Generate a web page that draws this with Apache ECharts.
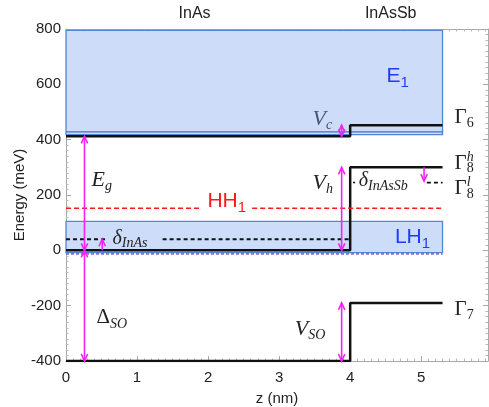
<!DOCTYPE html>
<html><head><meta charset="utf-8">
<script src="https://cdn.jsdelivr.net/npm/echarts@6/dist/echarts.min.js"></script>
<style>html,body{margin:0;padding:0;background:#fff}#c{width:489px;height:407px}</style>
</head><body><div id="c"></div>
<script>
// ---------------- data (z in nm, energy in meV) ----------------
const xTicks = [0, 1, 2, 3, 4, 5];
const yTicks = [-400, -200, 0, 200, 400, 600, 800];
const conductionBand = [[0, 412], [4, 412], [4, 452], [5.3, 452]];      // Γ6
const heavyHoleBand  = [[0, 0], [4, 0], [4, 300], [5.3, 300]];          // Γ8 h
const splitOffBand   = [[0, -400], [4, -400], [4, -190], [5.3, -190]];  // Γ7
const lightHoleInAsA = [[0, 40], [0.55, 40]];
const lightHoleInAsB = [[1.36, 40], [4, 40]];
const lightHoleInAsSb = [[5.08, 245], [5.3, 245]];                      // Γ8 l
const lightHoleDot   = [[4.04, 245], [4.07, 245]];
const hh1LevelA = [[0, 152], [1.89, 152]];
const hh1LevelB = [[2.62, 152], [5.3, 152]];
const e1Edge   = [[0, 428], [5.3, 428]];
const lh1Edge  = [[0, -12], [5.3, -12]];
// subband rectangles: [z0, E0, z1, E1]
const bands = [[0, 418, 5.3, 795], [0, -8, 5.3, 105]];
// arrows: [z, Efrom, Eto, heads]
const arrows = [
  [0.26, 0, 412, 'both'],
  [0.26, -400, 0, 'both'],
  [0.51, 0, 40, 'end'],
  [3.88, 412, 452, 'both'],
  [3.88, 0, 300, 'both'],
  [3.88, -400, -190, 'both'],
  [5.04, 300, 250, 'end']
];

// ---------------- rendering ----------------
const SERIF = '"Liberation Serif", "DejaVu Serif", serif';
const SANS = '"Liberation Sans", Arial, sans-serif';
const MAG = '#f422f4';
const BLUE = '#1f3cf5';
const RED = '#ff1a1a';
const mctx = document.createElement('canvas').getContext('2d');
function tw(font, t) { mctx.font = font; return mctx.measureText(t).width; }

const fG = '21px ' + SERIF, fGs = '14px ' + SERIF;
const fI = 'italic 22px ' + SERIF, fIs = 'italic 14px ' + SERIF;
const fS = '21px ' + SANS, fSs = '15px ' + SANS;

const annotations = [
  { x: 5.47, y: 479, items: [{ t: 'Γ', f: fG }, { t: '6', f: fGs, dy: 6 }] },
  { x: 5.47, y: 314, items: [{ t: 'Γ', f: fG }, { t: 'h', f: fIs, dy: -6, stack: true }, { t: '8', f: fGs, dy: 5 }] },
  { x: 5.47, y: 222, items: [{ t: 'Γ', f: fG }, { t: 'l', f: fIs, dy: -7, stack: true }, { t: '8', f: fGs, dy: 5 }] },
  { x: 5.47, y: -215, items: [{ t: 'Γ', f: fG }, { t: '7', f: fGs, dy: 6 }] },
  { x: 3.47, y: 475, color: '#4b5670', items: [{ t: 'V', f: fI }, { t: 'c', f: fIs, dy: 6 }] },
  { x: 3.47, y: 244, items: [{ t: 'V', f: fI }, { t: 'h', f: fIs, dy: 6 }] },
  { x: 3.22, y: -284, items: [{ t: 'V', f: fI }, { t: 'SO', f: fIs, dy: 6 }] },
  { x: 0.36, y: 254, items: [{ t: 'E', f: fI }, { t: 'g', f: fIs, dy: 6 }] },
  { x: 0.43, y: -244, items: [{ t: 'Δ', f: '21px ' + SERIF }, { t: 'SO', f: fIs, dy: 6 }] },
  { x: 0.655, y: 42, items: [{ t: 'δ', f: 'italic 20px ' + SERIF }, { t: 'InAs', f: fIs, dy: 5 }] },
  { x: 4.12, y: 251, items: [{ t: 'δ', f: 'italic 20px ' + SERIF }, { t: 'InAsSb', f: fIs, dy: 5 }] },
  { x: 4.51, y: 630, color: BLUE, items: [{ t: 'E', f: fS }, { t: '1', f: fSs, dy: 7 }] },
  { x: 1.99, y: 179, color: RED, items: [{ t: 'HH', f: fS }, { t: '1', f: fSs, dy: 7 }] },
  { x: 4.63, y: 49, color: BLUE, items: [{ t: 'LH', f: fS }, { t: '1', f: fSs, dy: 7 }] },
  { x: 1.81, y: 855, align: 'center', color: '#222', items: [{ t: 'InAs', f: '16px ' + SANS }] },
  { x: 4.57, y: 855, align: 'center', color: '#222', items: [{ t: 'InAsSb', f: '16px ' + SANS }] }
];

function renderLabel(params, api) {
  const a = annotations[params.dataIndex];
  const p = api.coord([a.x, a.y]);
  let total = 0;
  a.items.forEach(it => { if (!it.stack) total += tw(it.f, it.t); });
  let x = p[0] - (a.align === 'center' ? total / 2 : 0);
  const children = [];
  a.items.forEach(it => {
    children.push({ type: 'text', style: { text: it.t, x: x, y: p[1] + (it.dy || 0), font: it.f, fill: it.c || a.color || '#222', align: 'left', verticalAlign: 'middle' } });
    if (!it.stack) x += tw(it.f, it.t);
  });
  return { type: 'group', children };
}

function renderArrow(params, api) {
  const a = arrows[params.dataIndex];
  const p1 = api.coord([a[0], a[1]]);
  const p2 = api.coord([a[0], a[2]]);
  const L = 7, W = 3.2;
  const children = [{ type: 'line', shape: { x1: p1[0], y1: p1[1], x2: p2[0], y2: p2[1] }, style: { stroke: MAG, lineWidth: 1.6 } }];
  function head(tip, from) {
    const d = tip[1] > from[1] ? 1 : -1;
    children.push({ type: 'polyline', shape: { points: [[tip[0] - W, tip[1] - d * L], [tip[0], tip[1]], [tip[0] + W, tip[1] - d * L]] }, style: { stroke: MAG, lineWidth: 1.6, fill: null } });
  }
  head(p2, p1);
  if (a[3] === 'both') head(p1, p2);
  return { type: 'group', children };
}

function renderBand(params, api) {
  const b = bands[params.dataIndex];
  const p0 = api.coord([b[0], b[3]]);
  const p1 = api.coord([b[2], b[1]]);
  return { type: 'rect', shape: { x: p0[0], y: p0[1], width: p1[0] - p0[0], height: p1[1] - p0[1] }, style: { fill: '#cddcf9', stroke: '#4f86d6', lineWidth: 1.3 } };
}

function lineSeries(data, color, width, type, z) {
  return { type: 'line', data, showSymbol: false, symbol: 'none', silent: true, z: z || 5, animation: false,
    lineStyle: { color, width, type: type || 'solid' } };
}

function axisCommon() {
  return {
    axisLine: { show: true, onZero: false, lineStyle: { color: '#a8a8a8', width: 1 } },
    axisTick: { show: true, inside: true, length: 5, lineStyle: { color: '#a8a8a8' } },
    minorTick: { show: true, splitNumber: 10, length: 2.5, lineStyle: { color: '#b8b8b8' } },
    splitLine: { show: false }
  };
}

const chart = echarts.init(document.getElementById('c'));
chart.setOption({
  animation: false,
  backgroundColor: '#fff',
  grid: { left: 66, right: 1, top: 29, bottom: 46, containLabel: false, outerBoundsMode: 'none' },
  xAxis: [
    Object.assign({ type: 'value', min: 0, max: 5.94, interval: 1, position: 'bottom',
      name: 'z (nm)', nameLocation: 'middle', nameGap: 30, nameMoveOverlap: false,
      nameTextStyle: { fontSize: 15, color: '#222', fontFamily: 'Liberation Sans' },
      axisLabel: { fontSize: 15, color: '#222', margin: 9, fontFamily: 'Liberation Sans', showMaxLabel: false,
        formatter: v => xTicks.indexOf(v) >= 0 ? String(v) : '' } }, axisCommon()),
    Object.assign({ type: 'value', min: 0, max: 5.94, interval: 1, position: 'top', axisLabel: { show: false } }, axisCommon())
  ],
  yAxis: [
    Object.assign({ type: 'value', min: -400, max: 800, interval: 200, position: 'left',
      name: 'Energy (meV)', nameLocation: 'middle', nameGap: 39, nameMoveOverlap: false,
      nameTextStyle: { fontSize: 15, color: '#222', fontFamily: 'Liberation Sans' },
      axisLabel: { fontSize: 15, color: '#222', margin: 5, fontFamily: 'Liberation Sans',
        formatter: v => yTicks.indexOf(v) >= 0 ? String(v) : '' } }, axisCommon()),
    Object.assign({ type: 'value', min: -400, max: 800, interval: 200, position: 'right', axisLabel: { show: false } }, axisCommon())
  ],
  series: [
    { type: 'custom', renderItem: renderBand, data: bands.map(b => [b[0], b[1]]), z: 2, silent: true },
    lineSeries(e1Edge, '#3f6fd8', 1.3, 'solid', 3),
    lineSeries(lh1Edge, '#7b74d0', 2, [3, 2], 3),
    lineSeries(conductionBand, '#111', 2.5),
    lineSeries(heavyHoleBand, '#111', 2.5),
    lineSeries(splitOffBand, '#111', 2.5),
    lineSeries(lightHoleInAsA, '#111', 1.8, [4, 3]),
    lineSeries(lightHoleInAsB, '#111', 1.8, [4, 3]),
    lineSeries(lightHoleInAsSb, '#111', 1.8, [4, 3]),
    lineSeries(lightHoleDot, '#111', 1.5),
    lineSeries(hh1LevelA, RED, 1.5, [5, 3]),
    lineSeries(hh1LevelB, RED, 1.5, [5, 3]),
    { type: 'custom', renderItem: renderArrow, data: arrows.map(a => [a[0], a[1]]), z: 8, silent: true, clip: false },
    { type: 'custom', renderItem: renderLabel, data: annotations.map(a => [a.x, a.y]), z: 9, silent: true, clip: false }
  ]
});
</script></body></html>
